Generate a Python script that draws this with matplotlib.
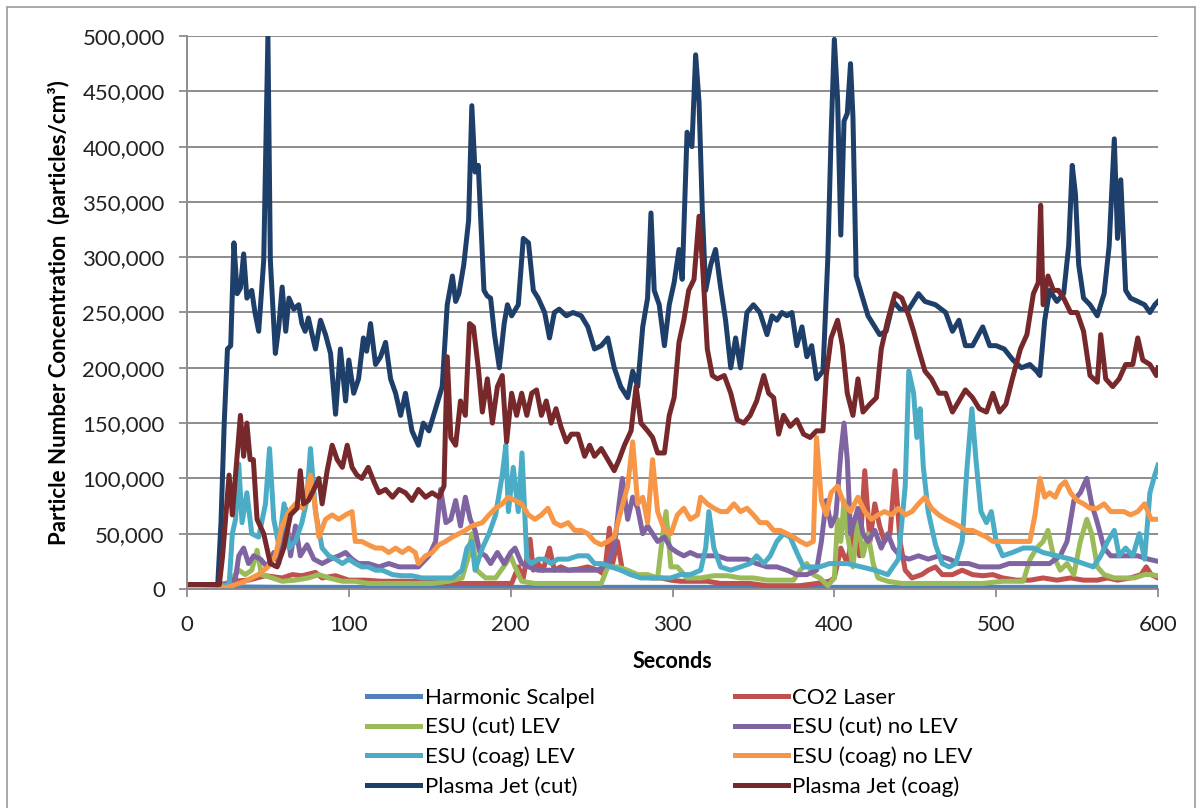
import numpy as np
import matplotlib
matplotlib.use("Agg")
import matplotlib.pyplot as plt
from matplotlib.ticker import FuncFormatter, MultipleLocator
from matplotlib.patches import Rectangle

plt.rcParams['font.family'] = ['Lato', 'DejaVu Sans']

# values, in thousands of particles/cm3
harmonic_t = [0, 10, 20, 23, 60, 120, 200, 300, 400, 500, 600]
harmonic_v = [4, 4, 4, 2, 1.5, 1.5, 1.5, 1.5, 1.5, 1.5, 1.5]

co2_t = [0, 10, 20, 24, 28, 38, 48.5, 58.8, 65, 71, 79.4, 83.5, 91.8, 100, 110, 120, 131, 141, 151.5, 162, 172,
         182.5, 193, 200.6, 204.7, 207.8, 212, 214, 217, 220, 224, 227, 231, 235.5, 241.6, 247.7, 253.9, 258, 261,
         263, 266, 269, 274.4, 280.5, 286.7, 292.8, 299, 305, 313, 321.5, 329.7, 338, 348, 358.4, 368.6, 378.9,
         389, 397, 400, 404, 408, 412.5, 415.6, 418.8, 422, 425, 428, 431, 434.4, 437.5, 440.6, 443.8, 448, 454,
         458, 462.5, 466.7, 473, 479, 485.4, 491.7, 498, 504, 512.5, 521, 529, 537.5, 546, 554, 562.5, 568.8,
         575, 583, 589.6, 592.7, 595.8, 600]
co2_v = [4, 4, 4, 5, 7, 8, 12, 10, 13, 12, 15, 10, 12, 8, 8, 7, 7, 7, 7, 5, 5,
         5, 5, 5, 20, 10, 45, 17, 23, 17, 37, 17, 20, 17, 18, 20, 17, 13, 55,
         23, 43, 17, 13, 12, 10, 10, 8, 7, 7, 7, 5, 5, 5, 3, 3, 3,
         5, 7, 10, 37, 23, 60, 30, 107, 43, 77, 57, 43, 50, 107, 43, 17, 10, 13,
         17, 20, 13, 13, 17, 13, 12, 13, 10, 8, 8, 10, 8, 10, 8, 8, 10,
         8, 10, 13, 20, 13, 10]

esu_cut_lev_t = [0, 10, 20, 24, 28, 32, 36, 40, 43.3, 46, 52.6, 58.8, 67, 75, 81.5, 87.6, 96, 104, 112, 120, 131,
                 141, 151.5, 162, 170, 174, 176, 179, 184.5, 190.7, 197, 200, 202.7, 206.8, 215, 225, 235.5, 245.7,
                 256, 260, 266, 272.3, 278.5, 284.6, 290.8, 294, 296, 299, 303, 309, 317.4, 325.6, 333.8, 342, 350,
                 358.4, 366.6, 374.8, 378.9, 383, 387, 391, 396, 400, 402, 404, 406, 408, 411.5, 414.6, 417.7, 420.8,
                 424, 427, 433, 441.7, 454, 466.7, 479, 491.7, 504, 516.7, 521, 525, 529, 532, 535.4, 539.6, 543.8,
                 548, 552, 556, 559, 562.5, 566.7, 573, 579, 585.4, 591.7, 595.8, 600]
esu_cut_lev_v = [4, 4, 4, 3, 10, 17, 13, 17, 35, 13, 10, 7, 8, 10, 13, 10, 7, 7, 5, 5, 5,
                 5, 5, 7, 10, 30, 50, 17, 10, 10, 23, 30, 20, 7, 5, 5, 5, 5,
                 5, 20, 20, 17, 13, 13, 10, 50, 70, 20, 20, 10, 10, 12, 12, 10, 10,
                 8, 8, 8, 17, 23, 13, 10, 3, 10, 63, 43, 80, 50, 20, 63, 30, 50,
                 23, 10, 7, 5, 5, 5, 5, 5, 7, 7, 27, 37, 43, 53, 30, 17, 23,
                 13, 43, 63, 50, 20, 13, 10, 10, 10, 13, 13, 12]

esu_cut_nolev_t = [0, 10, 20, 25, 30, 32, 35, 38, 41.2, 45.4, 49.5, 53.6, 56.7, 60.8, 64, 67, 70, 74.2, 78.4, 83.5,
                   88.7, 93.8, 98, 102, 106, 112, 118.6, 124.7, 131, 137, 143, 149.5, 153.6, 156.7, 160, 163, 166,
                   169, 172, 175, 178, 181, 184.5, 187.6, 191.8, 196, 200, 202.7, 206.8, 211, 217, 223, 229, 235.5,
                   241.6, 247.7, 253.9, 260, 264, 267, 269, 272.3, 275.4, 278.5, 281.6, 284.6, 287.7, 290.8, 295,
                   299, 303, 307, 311, 315.4, 321.5, 327.7, 333.8, 340, 346, 352, 358.4, 364.5, 370.7, 376.8, 383,
                   389, 392, 395, 398, 401, 404, 406, 408, 410, 414.6, 417.7, 420.8, 425, 429, 433, 436.5, 440.6,
                   446, 452, 458, 464.6, 471, 477, 483, 489.6, 496, 502, 508, 515, 521, 527, 533, 539.6, 543.8, 548,
                   552, 556, 559, 562.5, 566.7, 570.8, 575, 581, 587.5, 594, 600]
esu_cut_nolev_v = [4, 4, 4, 4, 10, 30, 37, 23, 30, 27, 20, 33, 23, 73, 30, 57, 30, 40, 27, 23,
                   27, 30, 33, 27, 23, 23, 20, 23, 20, 20, 20, 30, 43, 90, 60, 63, 80,
                   57, 83, 63, 53, 33, 30, 23, 33, 23, 33, 37, 23, 20, 17, 17, 17, 17,
                   17, 17, 17, 23, 37, 77, 100, 63, 83, 73, 50, 57, 50, 43, 47,
                   37, 33, 30, 33, 30, 30, 30, 27, 27, 27, 23, 20, 20, 17, 13, 13,
                   17, 43, 80, 57, 67, 123, 150, 117, 50, 73, 50, 43, 53, 37, 50, 37, 30,
                   27, 30, 27, 30, 27, 23, 23, 20, 20, 20, 23, 23, 23, 23, 23, 30, 43, 80,
                   87, 100, 77, 60, 37, 30, 30, 30, 30, 27, 25]

esu_coag_lev_t = [0, 10, 20, 24, 26, 28, 30, 32, 34, 37, 40, 44.3, 48.5, 51, 53.6, 56.7, 60, 63, 67, 71, 74,
                  76.3, 79.4, 83.5, 87.6, 91.8, 96, 100, 104, 108, 112, 116.5, 120.6, 127, 133, 139, 145, 151.5,
                  157.7, 164, 170, 173, 176, 178, 182.5, 186.6, 190.7, 194.8, 197, 198.6, 201.6, 204.7, 207, 210,
                  213, 217, 221, 225, 229, 235.5, 241.6, 247.7, 251.8, 256, 262, 268, 274.4, 280.5, 286.7, 292.8,
                  299, 305, 311, 317.4, 320.5, 322.5, 325.6, 329.7, 336, 342, 348, 352, 356.4, 360.4, 364.5, 368.6,
                  372.7, 376.8, 381, 385, 391, 397, 400, 408, 416.7, 425, 433, 439.6, 443.8, 446, 449, 451, 453,
                  455, 458, 462.5, 466.7, 471, 475, 479, 482, 485, 487.5, 490.6, 494, 497, 500, 504, 510, 516.7,
                  523, 529, 537.5, 546, 554, 560, 564.6, 568.8, 573, 576, 580, 584.4, 588.5, 591.7, 595, 598, 600]
esu_coag_lev_v = [4, 4, 4, 3, 3, 50, 63, 113, 60, 87, 50, 47, 77, 127, 63, 40, 77, 37, 43, 60, 80,
                  127, 70, 37, 30, 27, 23, 27, 23, 20, 20, 17, 17, 13, 12, 12, 10, 10,
                  10, 10, 17, 37, 43, 17, 37, 50, 67, 103, 130, 70, 110, 70, 123, 27,
                  23, 27, 27, 23, 27, 27, 30, 30, 23, 23, 20, 17, 13, 10, 10, 10,
                  10, 13, 13, 17, 37, 70, 37, 20, 17, 20, 23, 30, 23, 30, 43, 50,
                  47, 33, 20, 20, 20, 23, 23, 23, 20, 17, 13, 27, 93, 197, 177, 137, 163,
                  110, 70, 40, 23, 20, 23, 43, 110, 163, 117, 70, 60, 70, 43, 30, 33, 37,
                  37, 33, 30, 27, 23, 20, 30, 43, 53, 30, 37, 30, 50, 27, 87, 103, 112]

esu_coag_nolev_t = [0, 10, 20, 24, 28, 36, 44, 50, 54.6, 58.8, 63, 67, 71.5, 76.3, 78.4, 81.5, 85.6, 89.7, 93.8,
                    98, 102, 104, 108, 112, 116.5, 120.6, 124.7, 128.9, 133, 137, 141, 143, 147.4, 151.5, 155.7,
                    159.8, 164, 168, 172, 176, 182.5, 186.6, 190.7, 194.8, 198.6, 202.7, 206.8, 211, 215, 219, 223,
                    227, 231, 235.5, 239.5, 243.6, 247.7, 251.8, 256, 260, 264, 268, 272.3, 275.4, 278.5, 281.6,
                    284.6, 287.7, 290.8, 295, 299, 303, 307, 311, 315.4, 317.4, 321.5, 325.6, 329.7, 333.8, 338, 342,
                    346, 350, 354, 358.4, 362.5, 366.6, 370.7, 374.8, 378.9, 383, 387, 389, 392, 395, 398, 402, 406,
                    410, 414.6, 418.8, 423, 427, 431, 435.4, 439.6, 443.8, 448, 452, 456, 460, 464.6, 468.8, 473,
                    477, 481, 485.4, 489.6, 494, 498, 502, 506, 510, 516.7, 520.8, 524, 527, 530, 533, 536.5, 539.6,
                    542.7, 546, 550, 554, 558, 562.5, 566.7, 570.8, 575, 579, 583, 587.5, 591.7, 595.8, 600]
esu_coag_nolev_v = [4, 4, 3, 1, 3, 7, 13, 20, 30, 57, 70, 77, 73, 103, 83, 47, 63, 67, 63,
                    67, 70, 43, 43, 40, 37, 37, 33, 37, 33, 37, 33, 23, 30, 33, 40,
                    43, 47, 50, 53, 57, 60, 67, 73, 77, 83, 80, 77, 67, 63, 67, 73,
                    60, 57, 60, 53, 53, 50, 43, 40, 43, 47, 70, 93, 133, 77, 83,
                    60, 117, 70, 53, 50, 67, 73, 63, 67, 83, 77, 73, 70, 70, 77, 70,
                    73, 67, 60, 60, 53, 53, 50, 47, 43, 40, 43, 137, 80, 67, 87, 93, 77,
                    70, 83, 70, 63, 67, 70, 67, 73, 67, 70, 77, 83, 73, 67, 63, 60,
                    57, 53, 53, 50, 47, 43, 43, 43, 43, 43, 43, 67, 100, 83, 87, 83, 93,
                    97, 87, 80, 77, 73, 73, 77, 70, 70, 70, 67, 70, 77, 63, 63]

plasma_cut_t = [0, 10, 19, 21, 23, 25, 27, 29, 31, 33, 35, 37, 40, 42, 44.3, 47.4, 50, 51.5, 54.6, 56.7, 58.8, 61,
                63, 66, 69, 71, 73, 75, 77.3, 79.4, 82.5, 85.6, 88.7, 91.8, 94.8, 98, 100, 103, 106, 109, 111,
                113.4, 116.5, 119.6, 122.7, 125.8, 128.9, 132, 135, 139, 143, 146, 149.5, 153.6, 157.7, 160.8, 164,
                166, 168, 171, 174, 176, 178, 180, 183.5, 185.5, 187.6, 190, 193, 196, 198, 200.6, 204.7, 207.8,
                211, 214, 217, 221, 224, 227, 230, 234.4, 238.5, 243.6, 247.7, 251.8, 256, 260, 264, 268, 272.3,
                275.4, 278.5, 281.6, 284.6, 286.7, 288.7, 291.8, 295, 298, 301, 304, 306, 309, 312, 314.3, 316.4,
                318.4, 320.5, 323.6, 326.6, 329.7, 332.8, 336, 339, 342, 346, 350, 354, 358.4, 361.5, 364.5,
                367.6, 370.7, 373.8, 376.8, 380, 383, 386, 389, 393, 396, 398, 400, 402, 404, 406, 408, 410,
                411.5, 413.5, 416.7, 420.8, 425, 428, 432, 436.5, 440.6, 446, 452, 456, 462.5, 468.8, 473, 477,
                481, 485.4, 491.7, 496, 500, 505, 510.4, 515.6, 520.8, 525, 527, 530, 533, 537.5, 541.7, 544.8,
                547, 549, 551, 554, 558, 562.5, 566.7, 569.8, 573, 575, 577, 580, 583, 587.5, 591.7, 595, 598, 600]
plasma_cut_v = [4, 4, 4, 60, 150, 217, 220, 313, 267, 272, 303, 263, 270, 250, 233, 297, 500, 297, 213, 237, 273,
                233, 263, 253, 257, 240, 233, 245, 230, 217, 243, 230, 213, 158, 217, 170, 207, 177, 190, 227,
                215, 240, 203, 210, 223, 190, 177, 157, 177, 143, 130, 150, 143, 163, 183, 257, 283, 260, 267,
                293, 333, 437, 377, 383, 270, 265, 263, 230, 200, 240, 257, 247, 257, 317, 313, 270, 263, 250,
                227, 250, 253, 247, 250, 247, 237, 217, 220, 227, 200, 183, 173, 197, 183, 237, 263, 340, 270,
                257, 220, 257, 277, 307, 280, 413, 400, 483, 440, 343, 270, 293, 307, 273, 243, 200, 227, 200,
                250, 257, 250, 230, 247, 243, 250, 247, 250, 220, 237, 210, 220, 190, 197, 300, 410, 497, 443,
                320, 423, 430, 475, 427, 283, 267, 247, 237, 230, 233, 260, 253, 253, 267, 260, 257, 250, 233,
                243, 220, 220, 237, 220, 220, 217, 207, 200, 203, 197, 193, 243, 270, 260, 267, 310, 383, 357,
                293, 263, 257, 247, 267, 310, 407, 317, 370, 270, 263, 260, 257, 250, 257, 260]

plasma_coag_t = [0, 10, 20, 22, 24, 26, 28, 30, 33, 35, 37, 39, 41, 43.3, 47.4, 51.5, 55.7, 59.8, 64, 68, 70, 72,
                 75, 78.4, 81.5, 83.5, 86.6, 89.7, 92.8, 96, 99, 102, 105, 108, 112, 115.5, 118.6, 122.7, 127, 131,
                 135, 139, 143, 147.4, 151.5, 155.7, 158.8, 160.8, 163, 166, 169, 172, 174.6, 177, 180, 182.5,
                 185.6, 188.7, 191.8, 194.8, 197.5, 200.6, 203.7, 206.8, 210, 213, 216, 219, 222, 225, 228, 231,
                 234.4, 237.5, 241.6, 245.7, 248.8, 251.8, 256, 260, 264, 267, 270.3, 274.4, 277.5, 280.5, 284.6,
                 287.7, 290.8, 295, 298, 301, 304, 307, 310, 313.3, 316.4, 318.4, 321.5, 324.6, 327.7, 332, 336,
                 340, 344, 348, 352, 356.4, 359.4, 362.5, 365.6, 368.6, 372.7, 376.8, 381, 385, 389, 393, 395, 398,
                 402, 405, 408, 411.5, 414.6, 417.7, 421.9, 426, 429, 433, 437.5, 441.7, 446, 449, 452, 456, 460,
                 464.6, 468.8, 473, 477, 481, 485.4, 489.6, 494, 498, 502, 506, 510, 515, 519, 523, 526, 527.5,
                 529, 532, 535.4, 538.5, 541.7, 546, 550, 554, 558, 562.5, 564.6, 567.7, 572, 576, 580, 584.4,
                 587.5, 590.6, 595, 599, 600]
plasma_coag_v = [4, 4, 4, 30, 67, 103, 67, 103, 157, 120, 150, 117, 117, 63, 50, 23, 20, 37, 67, 73, 107, 77,
                 80, 90, 100, 77, 107, 130, 117, 110, 130, 110, 103, 100, 110, 97, 87, 90, 83, 90,
                 87, 80, 90, 83, 87, 83, 93, 210, 137, 130, 170, 157, 240, 237, 200, 160,
                 190, 150, 183, 193, 133, 177, 157, 177, 157, 177, 180, 157, 170, 150, 163, 147,
                 133, 140, 140, 120, 130, 120, 127, 117, 107, 117, 130, 143, 183, 150, 143,
                 137, 123, 123, 157, 173, 223, 243, 270, 280, 337, 297, 217, 193, 190, 193, 177,
                 153, 150, 157, 170, 193, 177, 173, 140, 157, 147, 153, 140, 137, 143, 143, 193, 227,
                 243, 220, 177, 157, 190, 160, 167, 173, 217, 243, 267, 263, 247, 233, 217, 197, 190,
                 177, 177, 160, 170, 180, 173, 163, 160, 177, 160, 167, 190, 217, 230, 267, 277, 347,
                 257, 283, 270, 270, 263, 250, 250, 233, 193, 187, 230, 190, 183, 190, 203, 203,
                 227, 207, 203, 193, 200]

series = [
    ("Harmonic Scalpel", harmonic_t, harmonic_v, "#4F81BD"),
    ("CO2 Laser", co2_t, co2_v, "#C0504D"),
    ("ESU (cut) LEV", esu_cut_lev_t, esu_cut_lev_v, "#9BBB59"),
    ("ESU (cut) no LEV", esu_cut_nolev_t, esu_cut_nolev_v, "#8064A2"),
    ("ESU (coag) LEV", esu_coag_lev_t, esu_coag_lev_v, "#4BACC6"),
    ("ESU (coag) no LEV", esu_coag_nolev_t, esu_coag_nolev_v, "#F79646"),
    ("Plasma Jet (cut)", plasma_cut_t, plasma_cut_v, "#1F3F6B"),
    ("Plasma Jet (coag)", plasma_coag_t, plasma_coag_v, "#76282A"),
]

W, H = 1201, 808
fig = plt.figure(figsize=(W / 100, H / 100), dpi=100)
# plot area: x 187..1158 px, y 36..589 px
ax = fig.add_axes([187 / W, 1 - 589 / H, (1158 - 187) / W, (589 - 36) / H])

lines = {}
for name, t, v, color in series:
    ln, = ax.plot(t, np.array(v) * 1000, color=color, lw=3.6, solid_joinstyle='round', label=name)
    lines[name] = ln

ax.set_xlim(0, 600)
ax.set_ylim(0, 500000)
ax.xaxis.set_major_locator(MultipleLocator(100))
ax.yaxis.set_major_locator(MultipleLocator(50000))
ax.yaxis.set_major_formatter(FuncFormatter(lambda y, p: f"{int(y):,}"))
ax.grid(axis='y', color='#8c8c8c', lw=1.4)
ax.set_axisbelow(True)
for s in ['top', 'right']:
    ax.spines[s].set_visible(False)
for s in ['left', 'bottom']:
    ax.spines[s].set_color('#8c8c8c')
    ax.spines[s].set_linewidth(1.4)
ax.tick_params(axis='both', labelsize=16, color='#8c8c8c', length=6, width=1.3, labelcolor='#222222')
ax.tick_params(axis='x', pad=13)
ax.tick_params(axis='y', pad=10)

ax.set_xlabel("Seconds", fontsize=15.5, fontweight='bold', labelpad=11)
ax.set_ylabel("Particle Number Concentration  (particles/cm³)", fontsize=16, fontweight='bold', labelpad=9)

order = ["Harmonic Scalpel", "ESU (cut) LEV", "ESU (coag) LEV", "Plasma Jet (cut)",
         "CO2 Laser", "ESU (cut) no LEV", "ESU (coag) no LEV", "Plasma Jet (coag)"]
fig.legend([lines[n] for n in order], order, ncol=2, loc='upper left',
           bbox_to_anchor=(367 / W, 1 - 688 / H), frameon=False, fontsize=16, borderpad=0,
           borderaxespad=0, handlelength=2.4, handletextpad=0.2, columnspacing=6.3, labelspacing=0.42)

fig.add_artist(Rectangle((7 / W, -0.05), (1195 - 7) / W, 1.05 - 7 / H,
                         transform=fig.transFigure, fill=False, edgecolor='#9a9a9a', lw=1.2))

fig.savefig("out.png", dpi=100)
